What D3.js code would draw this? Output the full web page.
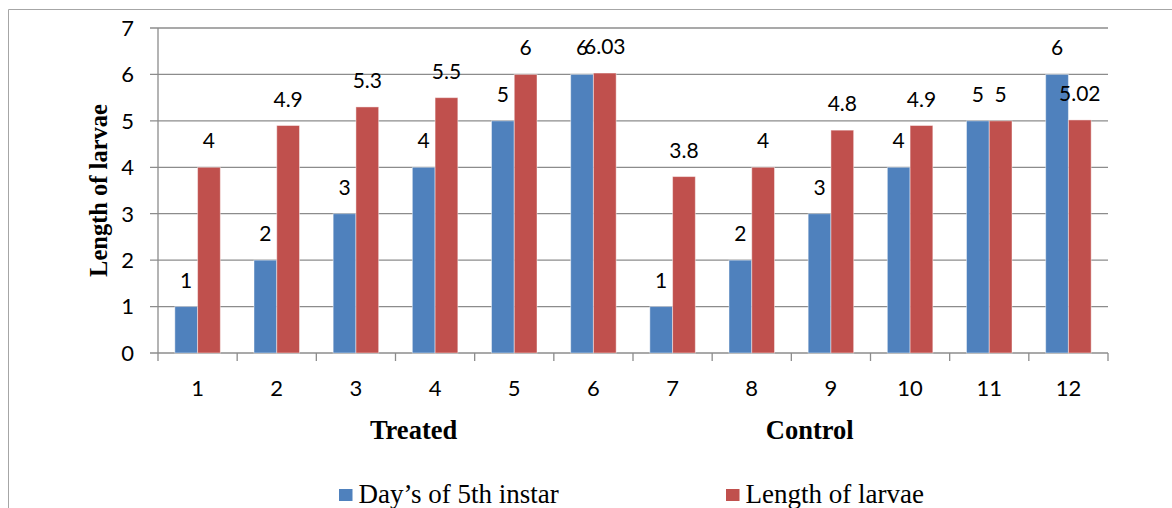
<!DOCTYPE html>
<html>
<head>
<meta charset="utf-8">
<script src="https://cdn.jsdelivr.net/npm/d3@7"></script>
<style>
  body { margin: 0; background: #fff; }
  svg { display: block; }
  .tick-label { font-family: Lato, "Open Sans", sans-serif; font-size: 22px; fill: #000; }
  .value-label { font-family: Lato, "Open Sans", sans-serif; font-size: 21px; fill: #000; }
  .serif { font-family: "Liberation Serif", "DejaVu Serif", serif; fill: #000; }
</style>
</head>
<body>
<script>
// data
const categories = ["1", "2", "3", "4", "5", "6", "7", "8", "9", "10", "11", "12"];
const days5thInstar = [1, 2, 3, 4, 5, 6, 1, 2, 3, 4, 5, 6];
const lengthOfLarvae = [4, 4.9, 5.3, 5.5, 6, 6.03, 3.8, 4, 4.8, 4.9, 5, 5.02];
const yTicks = [0, 1, 2, 3, 4, 5, 6, 7];
const seriesNames = ["Day\u2019s of 5th instar", "Length of larvae"];
const colors = ["#4f81bd", "#c0504d"];
const groupNames = ["Treated", "Control"];

const W = 1172, H = 508;
const margin = { top: 28, right: 64, bottom: 155, left: 158 };

const svg = d3.select("body").append("svg")
  .attr("width", W)
  .attr("height", H);

// outer chart frame (left and top edges visible)
svg.append("path")
  .attr("d", `M8.5,${H}V9.5H${W}`)
  .attr("fill", "none")
  .attr("stroke", "#a6a6a6")
  .attr("stroke-width", 1);

const x0 = margin.left;
const x1 = W - margin.right;
const y0 = H - margin.bottom;
const yTop = margin.top;

const xScale = d3.scaleBand()
  .domain(categories)
  .range([x0, x1]);

const innerScale = d3.scaleBand()
  .domain([0, 1])
  .range([0, xScale.bandwidth()])
  .paddingInner(0)
  .paddingOuter(0.74);

const yScale = d3.scaleLinear()
  .domain([0, 7])
  .range([y0, yTop]);

// horizontal grid lines
svg.append("g")
  .selectAll("line")
  .data(yTicks)
  .join("line")
  .attr("x1", x0 - 8)
  .attr("x2", x1)
  .attr("y1", d => yScale(d))
  .attr("y2", d => yScale(d))
  .attr("stroke", "#8c8c8c")
  .attr("stroke-width", 1.3);

// y tick labels
svg.append("g")
  .selectAll("text")
  .data(yTicks)
  .join("text")
  .attr("class", "tick-label")
  .attr("x", x0 - 24)
  .attr("y", d => yScale(d))
  .attr("dy", "0.36em")
  .attr("text-anchor", "end")
  .text(d => d);

// bars
const series = [days5thInstar, lengthOfLarvae];
const bars = svg.append("g");
series.forEach((values, si) => {
  bars.selectAll(`rect.s${si}`)
    .data(values)
    .join("rect")
    .attr("class", `s${si}`)
    .attr("x", (d, i) => xScale(categories[i]) + innerScale(si))
    .attr("width", innerScale.bandwidth())
    .attr("y", d => yScale(d))
    .attr("height", d => y0 - yScale(d))
    .attr("fill", colors[si])
    .attr("stroke", "rgba(255,255,255,0.45)")
    .attr("stroke-width", 1);
});

// axes lines and category ticks
svg.append("line")
  .attr("x1", x0).attr("x2", x0)
  .attr("y1", yTop).attr("y2", y0 + 8)
  .attr("stroke", "#8c8c8c").attr("stroke-width", 1.3);

svg.append("g")
  .selectAll("line")
  .data(categories.slice(1).concat(["end"]))
  .join("line")
  .attr("x1", d => d === "end" ? x1 : xScale(d))
  .attr("x2", d => d === "end" ? x1 : xScale(d))
  .attr("y1", y0)
  .attr("y2", y0 + 8)
  .attr("stroke", "#8c8c8c").attr("stroke-width", 1.3);

// x tick labels
svg.append("g")
  .selectAll("text")
  .data(categories)
  .join("text")
  .attr("class", "tick-label")
  .attr("x", d => xScale(d) + xScale.bandwidth() / 2)
  .attr("y", y0 + 43)
  .attr("text-anchor", "middle")
  .text(d => d);

// value labels
const labels = svg.append("g");
series.forEach((values, si) => {
  labels.selectAll(`text.s${si}`)
    .data(values)
    .join("text")
    .attr("class", `value-label s${si}`)
    .attr("x", (d, i) => xScale(categories[i]) + innerScale(si) + innerScale.bandwidth() / 2)
    .attr("y", d => yScale(d) - 19)
    .attr("text-anchor", "middle")
    .text(d => d);
});

// group titles under the axis
const plotW = x1 - x0;
svg.append("g")
  .selectAll("text")
  .data(groupNames)
  .join("text")
  .attr("class", "serif")
  .attr("x", (d, i) => x0 + plotW * (i === 0 ? 0.269 : 0.686))
  .attr("y", y0 + 86)
  .attr("text-anchor", "middle")
  .attr("font-size", 26.5)
  .attr("font-weight", "bold")
  .text(d => d);

// y axis title
svg.append("text")
  .attr("class", "serif")
  .attr("transform", `translate(107, ${yScale(3.5)}) rotate(-90)`)
  .attr("text-anchor", "middle")
  .attr("font-size", 24.5)
  .attr("font-weight", "bold")
  .text("Length of larvae");

// legend
const legendX = [339, 726];
const legend = svg.append("g")
  .selectAll("g")
  .data(seriesNames)
  .join("g")
  .attr("transform", (d, i) => `translate(${legendX[i]}, 489)`);

legend.append("rect")
  .attr("width", 13.5)
  .attr("height", 12)
  .attr("fill", (d, i) => colors[i]);

legend.append("text")
  .attr("class", "serif")
  .attr("x", 19.5)
  .attr("y", 14)
  .attr("font-size", 27)
  .text(d => d);
</script>
</body>
</html>
